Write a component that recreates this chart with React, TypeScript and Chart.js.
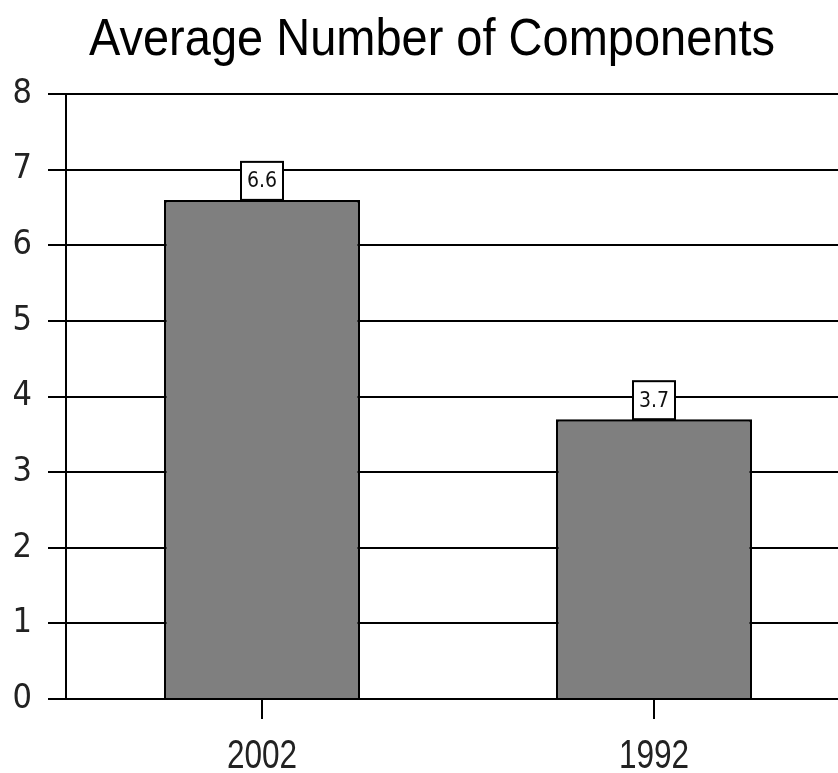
import React, { useEffect, useRef } from "react";
import { Chart, registerables } from "chart.js";

Chart.register(...registerables);

const categories = ["2002", "1992"];
const values = [6.6, 3.7];
const valueLabels = ["6.6", "3.7"];
const yTicks = [0, 1, 2, 3, 4, 5, 6, 7, 8];
const titleText = "Average Number of Components";

const COND = "'DejaVu Sans Condensed', 'Liberation Sans Narrow', sans-serif";
const SANS = "'Liberation Sans', Arial, sans-serif";

const boxLabelPlugin = {
  id: "boxLabels",
  afterDatasetsDraw(chart: any) {
    const ctx = chart.ctx;
    const meta = chart.getDatasetMeta(0);
    meta.data.forEach((bar: any, i: number) => {
      const w = 42;
      const h = 38;
      const x = bar.x;
      const y = bar.y;
      ctx.save();
      ctx.fillStyle = "#ffffff";
      ctx.strokeStyle = "#000000";
      ctx.lineWidth = 2;
      ctx.fillRect(x - w / 2, y - h, w, h);
      ctx.strokeRect(x - w / 2, y - h, w, h);
      ctx.fillStyle = "#111111";
      ctx.font = `21px ${COND}`;
      ctx.textAlign = "center";
      ctx.textBaseline = "middle";
      ctx.fillText(valueLabels[i], x, y - h / 2 + 1);
      ctx.restore();
    });
  },
};

const textPlugin = {
  id: "narrowText",
  afterDraw(chart: any) {
    const ctx = chart.ctx;
    // title, drawn with a horizontally condensed sans
    ctx.save();
    ctx.fillStyle = "#000000";
    ctx.font = `52px ${SANS}`;
    ctx.textAlign = "center";
    ctx.textBaseline = "alphabetic";
    const tw = ctx.measureText(titleText).width;
    const s = 686 / tw;
    ctx.translate(432, 55);
    ctx.scale(s, 1);
    ctx.fillText(titleText, 0, 0);
    ctx.restore();

    // category labels
    const xs = chart.scales.x;
    categories.forEach((c, i) => {
      const px = xs.getPixelForValue(i);
      ctx.save();
      ctx.fillStyle = "#222222";
      ctx.font = `41px ${SANS}`;
      ctx.textAlign = "center";
      ctx.textBaseline = "alphabetic";
      ctx.translate(px, xs.bottom - 5);
      ctx.scale(0.77, 1);
      ctx.fillText(c, 0, 0);
      ctx.restore();
    });
  },
};

export default function App() {
  const ref = useRef<HTMLCanvasElement | null>(null);

  useEffect(() => {
    if (!ref.current) return;
    const chart = new Chart(ref.current, {
      type: "bar",
      data: {
        labels: categories,
        datasets: [
          {
            data: values,
            backgroundColor: "#7f7f7f",
            borderColor: "#000000",
            borderWidth: 2.5,
            barPercentage: 1,
            categoryPercentage: 0.5,
          },
        ],
      },
      options: {
        responsive: false,
        animation: false,
        layout: { padding: { left: 13, right: 0, top: 94, bottom: 0 } },
        plugins: {
          legend: { display: false },
          tooltip: { enabled: false },
          title: { display: false },
        },
        scales: {
          x: {
            afterFit: (axis: any) => {
              axis.height = 74;
            },
            grid: {
              display: true,
              drawOnChartArea: false,
              drawTicks: true,
              tickLength: 20,
              offset: false,
              color: "#000000",
              lineWidth: 2,
            },
            border: { display: true, color: "#000000", width: 2 },
            ticks: { display: false },
          },
          y: {
            min: 0,
            max: 8,
            afterBuildTicks: (axis: any) => {
              axis.ticks = yTicks.map((v) => ({ value: v }));
            },
            afterFit: (axis: any) => {
              axis.width = 53;
            },
            grid: {
              color: "#000000",
              lineWidth: 2,
              tickLength: 18,
              drawTicks: true,
            },
            border: { display: true, color: "#000000", width: 2 },
            ticks: {
              color: "#222222",
              font: { family: COND, size: 34 },
              padding: 16,
            },
          },
        },
      },
      plugins: [boxLabelPlugin, textPlugin],
    });
    return () => chart.destroy();
  }, []);

  return (
    <div
      style={{
        position: "fixed",
        left: 0,
        top: 0,
        width: 838,
        height: 773,
        overflow: "hidden",
        background: "#ffffff",
      }}
    >
      <canvas ref={ref} width={850} height={773} style={{ display: "block" }} />
    </div>
  );
}
